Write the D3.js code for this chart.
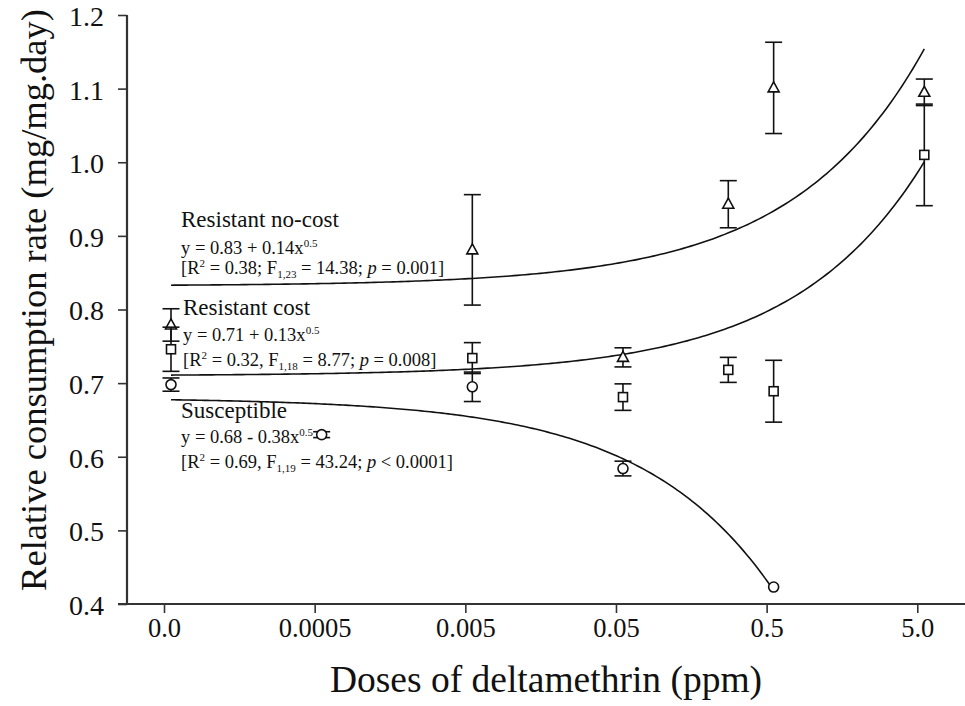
<!DOCTYPE html>
<html>
<head>
<meta charset="utf-8">
<script src="https://cdn.jsdelivr.net/npm/d3@7"></script>
<style>
  html, body { margin: 0; padding: 0; background: #fff; }
  svg text { font-family: "Liberation Serif", "Times New Roman", Times, "DejaVu Serif", serif !important; }
</style>
</head>
<body>
<svg id="chart" width="965" height="706"></svg>
<script>
// ---------- data ----------
const tickDoses = [0.00005, 0.0005, 0.005, 0.05, 0.5, 5];
const tickLabels = ["0.0", "0.0005", "0.005", "0.05", "0.5", "5.0"];
const yTicks = [0.4, 0.5, 0.6, 0.7, 0.8, 0.9, 1.0, 1.1, 1.2];
const controlDose = 0.00005; // axis position used for dose 0.0

const noCostDoses = [0, 0.005, 0.05, 0.25, 0.5, 5];
const noCostMeans = [0.779, 0.881, 0.735, 0.943, 1.101, 1.095];
const noCostErr   = [0.022, 0.075, 0.013, 0.032, 0.062, 0.018];

const costDoses = [0, 0.005, 0.05, 0.25, 0.5, 5];
const costMeans = [0.746, 0.734, 0.681, 0.718, 0.689, 1.010];
const costErr   = [0.030, 0.021, 0.018, 0.017, 0.042, 0.069];

const suscDoses = [0, 0.0005, 0.005, 0.05, 0.5];
const suscMeans = [0.698, 0.630, 0.695, 0.584, 0.423];
const suscErr   = [0.009, 0.004, 0.020, 0.010, 0.0];

// fitted curves as drawn: y = a + b * x^0.5
const fitA = [0.832, 0.71, 0.68];
const fitB = [0.144, 0.13, -0.37];
const fitMax = [5, 5, 0.5];

// ---------- chart ----------
const svg = d3.select("#chart");
const x = d3.scaleLog().domain([0.00005, 5]).range([164, 917.3]);
const y = d3.scaleLinear().domain([0.4, 1.2]).range([604, 15]);
const ptOffset = 7;
const px = d => x(d === 0 ? controlDose : d) + ptOffset;
const ink = "#111";

// axes
const axisColor = "#333";
const xAxis = d3.axisBottom(x).tickValues(tickDoses).tickFormat((d, i) => tickLabels[i])
  .tickSize(9).tickSizeOuter(0).tickPadding(5);
const gx = svg.append("g").attr("transform", "translate(0,604)").call(xAxis);
gx.select(".domain").attr("d", "M118,0H965").attr("stroke", axisColor).attr("stroke-width", 2.2);
gx.selectAll(".tick line").attr("stroke", axisColor).attr("stroke-width", 1.6);
gx.selectAll(".tick text").attr("font-size", 26.5).attr("fill", ink);

const yAxis = d3.axisLeft(y).tickValues(yTicks).tickFormat(d3.format(".1f"))
  .tickSize(9).tickSizeOuter(0).tickPadding(14);
const gy = svg.append("g").attr("transform", "translate(127,0)").call(yAxis);
gy.select(".domain").attr("d", "M0,15V605").attr("stroke", axisColor).attr("stroke-width", 2.2);
gy.selectAll(".tick line").attr("stroke", axisColor).attr("stroke-width", 1.6);
gy.selectAll(".tick text").attr("font-size", 28).attr("dy", "0.37em").attr("fill", ink);

// axis titles
svg.append("text").attr("x", 546).attr("y", 692).attr("text-anchor", "middle")
  .attr("font-size", 37.5).attr("fill", ink).text("Doses of deltamethrin (ppm)");
svg.append("text").attr("transform", "translate(46,300) rotate(-90)").attr("text-anchor", "middle")
  .attr("font-size", 36.5).attr("fill", ink).text("Relative consumption rate (mg/mg.day)");

// fitted curves
const line = d3.line().x(d => x(d[0]) + ptOffset).y(d => y(d[1]));
fitA.forEach((a, i) => {
  const lo = Math.log10(controlDose), hi = Math.log10(fitMax[i]);
  const pts = d3.range(0, 201).map(k => {
    const d = Math.pow(10, lo + (hi - lo) * k / 200);
    return [d, a + fitB[i] * Math.sqrt(d)];
  });
  svg.append("path").datum(pts).attr("d", line).attr("fill", "none")
    .attr("stroke", ink).attr("stroke-width", 1.6);
});

// error bars and markers
function drawSeries(doses, means, errs, shape) {
  const g = svg.append("g").attr("stroke", ink).attr("stroke-width", 1.6).attr("fill", "none");
  doses.forEach((d, i) => {
    const cx = px(d), cy = y(means[i]);
    if (errs[i] > 0) {
      const t = y(means[i] + errs[i]), b = y(means[i] - errs[i]);
      g.append("line").attr("x1", cx).attr("x2", cx).attr("y1", t).attr("y2", b);
      g.append("line").attr("x1", cx - 8.5).attr("x2", cx + 8.5).attr("y1", t).attr("y2", t);
      g.append("line").attr("x1", cx - 8.5).attr("x2", cx + 8.5).attr("y1", b).attr("y2", b);
    }
    if (shape === "triangle") {
      g.append("path").attr("d", `M${cx},${cy - 6}L${cx + 5.5},${cy + 4}L${cx - 5.5},${cy + 4}Z`).attr("fill", "#fff");
    } else if (shape === "square") {
      g.append("rect").attr("x", cx - 4.5).attr("y", cy - 4.5).attr("width", 9).attr("height", 9).attr("fill", "#fff");
    } else {
      g.append("circle").attr("cx", cx).attr("cy", cy).attr("r", 5).attr("fill", "#fff");
    }
  });
}
drawSeries(noCostDoses, noCostMeans, noCostErr, "triangle");
drawSeries(costDoses, costMeans, costErr, "square");
drawSeries(suscDoses, suscMeans, suscErr, "circle");

// annotations
function annot(x0, yT, yE, yS, title, eqA, eqB, sign, r2, fSub, fVal, pSep, pOp, pVal, sep1) {
  svg.append("text").attr("x", x0).attr("y", yT).attr("font-size", 23).attr("fill", ink).text(title);
  const e = svg.append("text").attr("x", x0).attr("y", yE).attr("font-size", 18.5).attr("fill", ink);
  e.append("tspan").text(`y = ${eqA} ${sign} ${eqB}x`);
  e.append("tspan").attr("dy", -7).attr("font-size", 11).text("0.5");
  const s = svg.append("text").attr("x", x0).attr("y", yS).attr("font-size", 18.5).attr("fill", ink);
  s.append("tspan").text("[R");
  s.append("tspan").attr("dy", -7).attr("font-size", 11).text("2");
  s.append("tspan").attr("dy", 7).text(` = ${r2}${sep1} F`);
  s.append("tspan").attr("dy", 4).attr("font-size", 11).text(fSub);
  s.append("tspan").attr("dy", -4).text(` = ${fVal};${pSep}`);
  s.append("tspan").attr("font-style", "italic").text("p");
  s.append("tspan").text(` ${pOp} ${pVal}]`);
}
annot(181, 227, 254, 274, "Resistant no-cost", "0.83", "0.14", "+", "0.38", "1,23", "14.38", "  ", "=", "0.001", ";");
annot(183, 315, 341, 366, "Resistant cost", "0.71", "0.13", "+", "0.32", "1,18", "8.77", " ", "=", "0.008", ",");
annot(181, 418, 443, 468, "Susceptible", "0.68", "0.38", "-", "0.69", "1,19", "43.24", " ", "<", "0.0001", ",");
</script>
</body>
</html>
